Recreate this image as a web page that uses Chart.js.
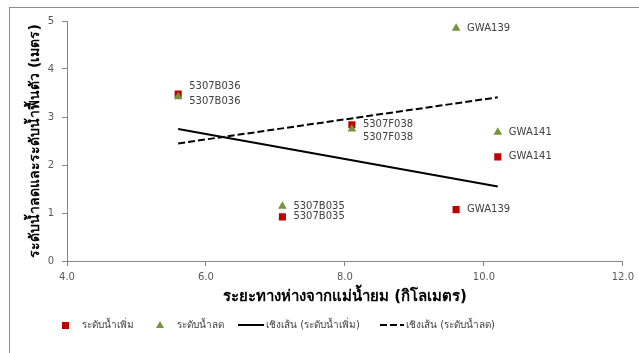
<!DOCTYPE html>
<html>
<head>
<meta charset="utf-8">
<script src="https://cdn.jsdelivr.net/npm/chart.js@4/dist/chart.umd.min.js"></script>
<style>
  html, body { margin: 0; padding: 0; background: #fff; }
  #wrap { position: relative; width: 639px; height: 353px; }
</style>
</head>
<body>
<div id="wrap"><canvas id="c" width="639" height="353"></canvas></div>
<script>
// ---- data ----
const wellNames   = ['5307B036', '5307F038', '5307B035', 'GWA139', 'GWA141'];
const distanceKm  = [5.6, 8.1, 7.1, 9.6, 10.2];
const riseLevel   = [3.48, 2.84, 0.92, 1.07, 2.17];   // ระดับน้ำเพิ่ม
const dropLevel   = [3.42, 2.75, 1.14, 4.85, 2.68];   // ระดับน้ำลด
const trendX      = [5.6, 10.2];
const trendRise   = [2.75, 1.55];                     // เชิงเส้น (ระดับน้ำเพิ่ม)
const trendDrop   = [2.45, 3.41];                     // เชิงเส้น (ระดับน้ำลด)
const xTicks      = [4, 6, 8, 10, 12];
const yTicks      = [0, 1, 2, 3, 4, 5];

const seriesNames = ['ระดับน้ำเพิ่ม', 'ระดับน้ำลด', 'เชิงเส้น (ระดับน้ำเพิ่ม)', 'เชิงเส้น (ระดับน้ำลด)'];
const xTitle = 'ระยะทางห่างจากแม่น้ำยม (กิโลเมตร)';
const yTitle = 'ระดับน้ำลดและระดับน้ำฟื้นตัว (เมตร)';

const RED = '#C00000', GREEN = '#77933C', AXIS = '#868686', TXT = '#595959';
const FONT = "'DejaVu Sans', 'Noto Sans', sans-serif";

const pts = (xs, ys) => xs.map((x, i) => ({ x, y: ys[i] }));

// label nudges (dy in px) for overlapping label pairs
const labelNudge = { '0-0': -8, '1-0': 5, '1-1': 8 };

const labelsPlugin = {
  id: 'pointLabels',
  afterDatasetsDraw(chart) {
    const ctx = chart.ctx;
    ctx.save();
    ctx.font = '10px ' + FONT;
    ctx.fillStyle = '#404040';
    ctx.textBaseline = 'middle';
    ctx.textAlign = 'left';
    [0, 1].forEach(di => {
      const meta = chart.getDatasetMeta(di);
      meta.data.forEach((el, i) => {
        const dy = labelNudge[di + '-' + i] || 0;
        ctx.fillText(wellNames[i], el.x + 11, el.y + dy);
      });
    });
    ctx.restore();
  }
};

const frameLegendPlugin = {
  id: 'frameLegend',
  beforeDraw(chart) {
    const ctx = chart.ctx;
    ctx.save();
    ctx.strokeStyle = '#8c8c8c';
    ctx.lineWidth = 1;
    ctx.strokeRect(9.5, 7.5, 800, 500);
    ctx.restore();
  },
  afterDraw(chart) {
    const ctx = chart.ctx;
    const ds = chart.data.datasets;
    const y = 325;
    ctx.save();
    ctx.font = '10px ' + FONT;
    ctx.fillStyle = '#404040';
    ctx.textBaseline = 'middle';
    ctx.textAlign = 'left';
    // red square
    ctx.fillStyle = ds[0].backgroundColor;
    ctx.fillRect(62, y - 3, 7, 7);
    ctx.fillStyle = '#404040';
    ctx.fillText(ds[0].label, 82, y);
    // green triangle
    ctx.fillStyle = ds[1].backgroundColor;
    ctx.beginPath();
    ctx.moveTo(160, y - 4); ctx.lineTo(164, y + 3); ctx.lineTo(156, y + 3); ctx.closePath();
    ctx.fill();
    ctx.fillStyle = '#404040';
    ctx.fillText(ds[1].label, 177, y);
    // solid line
    ctx.strokeStyle = '#000'; ctx.lineWidth = 2;
    ctx.beginPath(); ctx.moveTo(238, y); ctx.lineTo(264, y); ctx.stroke();
    ctx.fillText(ds[2].label, 266, y);
    // dashed line
    ctx.setLineDash(ds[3].borderDash);
    ctx.beginPath(); ctx.moveTo(380, y); ctx.lineTo(404, y); ctx.stroke();
    ctx.setLineDash([]);
    ctx.fillText(ds[3].label, 406, y);
    ctx.restore();
  }
};

new Chart(document.getElementById('c'), {
  type: 'scatter',
  data: {
    datasets: [
      { label: seriesNames[0], data: pts(distanceKm, riseLevel), pointStyle: 'rect', pointRadius: 5,
        backgroundColor: RED, borderColor: RED, borderWidth: 0, order: 2 },
      { label: seriesNames[1], data: pts(distanceKm, dropLevel), pointStyle: 'triangle', pointRadius: 5,
        backgroundColor: GREEN, borderColor: GREEN, borderWidth: 0, order: 1 },
      { label: seriesNames[2], data: pts(trendX, trendRise), showLine: true, pointRadius: 0,
        borderColor: '#000', backgroundColor: '#000', borderWidth: 2, order: 3 },
      { label: seriesNames[3], data: pts(trendX, trendDrop), showLine: true, pointRadius: 0,
        borderColor: '#000', backgroundColor: '#000', borderWidth: 2, borderDash: [7, 3], order: 4 }
    ]
  },
  options: {
    responsive: false,
    animation: false,
    layout: { padding: { left: 0, top: 21, right: 16, bottom: 42 } },
    plugins: { legend: { display: false }, tooltip: { enabled: false } },
    scales: {
      x: {
        type: 'linear', min: xTicks[0], max: xTicks[xTicks.length - 1],
        afterBuildTicks: s => { s.ticks = xTicks.map(v => ({ value: v })); },
        afterFit: s => { s.height = 50; },
        ticks: { color: TXT, font: { family: FONT, size: 10 }, padding: 5, maxRotation: 0,
                 callback: v => Number(v).toFixed(1) },
        grid: { drawOnChartArea: false, drawTicks: true, tickLength: 5, color: AXIS },
        border: { display: true, color: AXIS, width: 1 },
        title: { display: true, text: xTitle, color: '#000', padding: { top: 0, bottom: 5 },
                 font: { family: FONT, size: 15, weight: 'bold' } }
      },
      y: {
        type: 'linear', min: yTicks[0], max: yTicks[yTicks.length - 1],
        afterBuildTicks: s => { s.ticks = yTicks.map(v => ({ value: v })); },
        afterFit: s => { s.width = 67; },
        ticks: { color: TXT, font: { family: FONT, size: 10 }, padding: 8,
                 callback: v => String(v) },
        grid: { drawOnChartArea: false, drawTicks: true, tickLength: 5, color: AXIS },
        border: { display: true, color: AXIS, width: 1 },
        title: { display: true, text: yTitle, color: '#000', padding: { top: 27, bottom: 0 },
                 font: { family: FONT, size: 14, weight: 'bold' } }
      }
    }
  },
  plugins: [labelsPlugin, frameLegendPlugin]
});
</script>
</body>
</html>
